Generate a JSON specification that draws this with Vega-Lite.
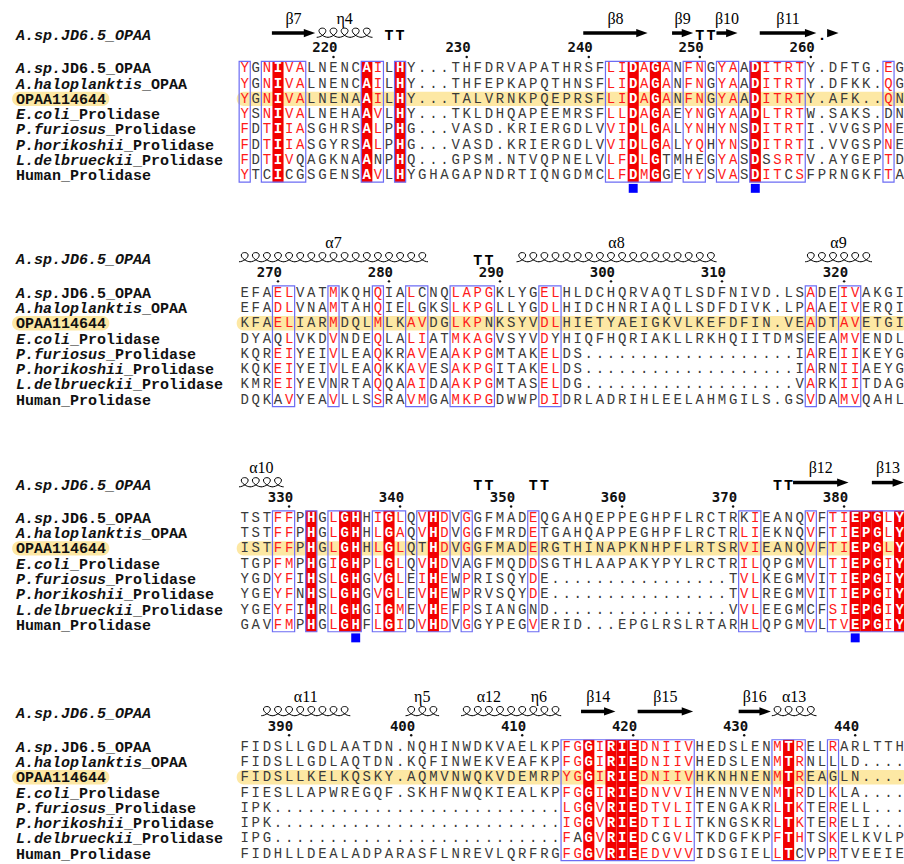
{
"$schema":"https://vega.github.io/schema/vega-lite/v6.json",
"width":904,"height":864,"padding":0,"autosize":{"type":"none"},
"background":"white",
"config":{"view":{"stroke":null}},
"datasets":{
"names":[
{"r":0,"sp":"A.sp.","rest":"JD6.5_OPAA","hl":false},
{"r":1,"sp":"A.haloplanktis","rest":"_OPAA","hl":false},
{"r":2,"sp":"","rest":"OPAA114644","hl":true},
{"r":3,"sp":"E.coli","rest":"_Prolidase","hl":false},
{"r":4,"sp":"P.furiosus","rest":"_Prolidase","hl":false},
{"r":5,"sp":"P.horikoshii","rest":"_Prolidase","hl":false},
{"r":6,"sp":"L.delbrueckii","rest":"_Prolidase","hl":false},
{"r":7,"sp":"","rest":"Human_Prolidase","hl":false}
],
"blocks":[{"b":1,"ref":"A.sp.JD6.5_OPAA"},{"b":2,"ref":"A.sp.JD6.5_OPAA"},{"b":3,"ref":"A.sp.JD6.5_OPAA"},{"b":4,"ref":"A.sp.JD6.5_OPAA"}],
"seq":[
{"b":1,"r":0,"seq":"YGNIVALNENCAILHY...THFDRVAPATHRSFLIDAGANFNGYAADITRTY.DFTG.EG","cons":"s-siss----|-is-i-----|----------|---ssisis-|ss-ss-isss|s-------s-"},
{"b":1,"r":1,"seq":"YGNIVALNENCAILHY...THFEPKAPQTHNSFLIDAGANFNGYAADITRTY.DFKK.QG","cons":"s-siss----|-is-i-----|----------|---ssisis-|ss-ss-isss|s-------s-"},
{"b":1,"r":2,"seq":"YGNIVALNENAAILHY...TALVRNKPQEPRSFLIDAGANFNGYAADITRTY.AFK..QN","cons":"s-siss----|-is-i-----|----------|---ssisis-|ss-ss-isss|s-------s-"},
{"b":1,"r":3,"seq":"YSNIVALNEHAAVLHY...TKLDHQAPEEMRSFLLDAGAEYNGYAADLTRTW.SAKS.DN","cons":"s-siss----|-is-i-----|----------|---ssisis-|ss-ss-isss|s---------"},
{"b":1,"r":4,"seq":"FDTIIASGHRSALPHG...VASD.KRIERGDLVVIDLGALYNHYNSDITRTI.VVGSPNE","cons":"s-siss----|-is-i-----|----------|---ssisis-|ss-ss-isss|s-------s-"},
{"b":1,"r":5,"seq":"FDTIIASGYRSALPHG...VASD.KRIERGDLVVIDLGALYQHYNSDITRTI.VVGSPNE","cons":"s-siss----|-is-i-----|----------|---ssisis-|ss-ss-isss|s-------s-"},
{"b":1,"r":6,"seq":"FDTIVQAGKNAANPHQ...GPSM.NTVQPNELVLFDLGTMHEGYASDSSRTV.AYGEPTD","cons":"s-sis-----|-i--i-----|----------|---ssisi--|---ss-i-ss|s-------s-"},
{"b":1,"r":7,"seq":"YTCICGSGENSAVLHYGHAGAPNDRTIQNGDMCLFDMGGEYYSVASDITCSFPRNGKFTA","cons":"s--i------|-is-i-----|----------|---ssisi--|ss-ss-iss-|s-------s-"},
{"b":2,"r":0,"seq":"EFAELVATMKQHQIALCNQLAPGKLYGELHLDCHQRVAQTLSDFNIVD.LSADEIVAKGI","cons":"---ss---s-|--s--s---s|sss----ss-|----------|----------|-s--ss----"},
{"b":2,"r":1,"seq":"EFADLVNAMTAHQIELGKSLKPGLLYGDLHIDCHNRIAQLLSDFDIVK.LPAAEIVERQI","cons":"---ss---s-|--s--s---s|sss----ss-|----------|----------|-s--ss----"},
{"b":2,"r":2,"seq":"KFAELIARMDQLMLKAVDGLKPNKSYVDLHIETYAEIGKVLKEFDFIN.VEADTAVETGI","cons":"---ss---s-|--s--ss--s|ss-----ss-|----------|----------|-s--ss----"},
{"b":2,"r":3,"seq":"DYAQLVKDVNDEQLALIATMKAGVSYVDYHIQFHQRIAKLLRKHQIITDMSEEAMVENDL","cons":"----s---s-|--s--ss--s|sss----s--|----------|----------|----ss----"},
{"b":2,"r":4,"seq":"KQREIYEIVLEAQKRAVEAAKPGMTAKELDS...................IAREIIKEYG","cons":"---ss---s-|--s--ss--s|sss----ss-|----------|----------|-s--ss----"},
{"b":2,"r":5,"seq":"KQKEIYEIVLEAQKKAVESAKPGITAKELDS...................IARNIIAEYG","cons":"---ss---s-|--s--ss--s|sss----ss-|----------|----------|-s--ss----"},
{"b":2,"r":6,"seq":"KMREIYEVNRTAQQAAIDAAKPGMTASELDG...................VARKIITDAG","cons":"---ss-----|--s--ss--s|sss----ss-|----------|----------|-s--ss----"},
{"b":2,"r":7,"seq":"DQKAVYEAVLLSSRAVMGAMKPGDWWPDIDRLADRIHLEELAHMGILS.GSVDAMVQAHL","cons":"----s---s-|--s--ss--s|sss----ss-|----------|----------|-s--ss----"},
{"b":3,"r":0,"seq":"TSTFFPHGLGHHIGLQVHDVGGFMADEQGAHQEPPEGHPFLRCTRKIEANQVFTIEPGLY","cons":"---ss-i-si|i-sis-sis-|s-----s---|----------|------s---|-s-ssiiisi"},
{"b":3,"r":1,"seq":"TSTFFPHGLGHHLGAQVHDVGGFMRDETGAHQAPPEGHPFLRCTRLIEKNQVFTIEPGLY","cons":"---ss-i-si|i-sis-sis-|s-----s---|----------|-----ss---|-s-ssiiisi"},
{"b":3,"r":2,"seq":"ISTFFPHGLGHHLGLQTHDVGGFMADERGTHINAPKNHPFLRTSRVIEANQVFTIEPGLY","cons":"---ss-i-si|i-sis--is-|s-----s---|----------|-----ss---|-s-ssiiisi"},
{"b":3,"r":3,"seq":"TGPFMPHGIGHPLGLQVHDVAGFMQDDSGTHLAAPAKYPYLRCTRILQPGMVLTIEPGIY","cons":"---ss-i-si|i-sis-sis-|------s---|----------|-----ss---|-s-ssiiisi"},
{"b":3,"r":4,"seq":"YGDYFIHSLGHGVGLEIHEWPRISQYDE................TVLKEGMVITIEPGIY","cons":"---ss-i-si|i-sis-sis-|s-----s---|----------|-----ss---|-s-ssiiisi"},
{"b":3,"r":5,"seq":"YGEYFNHSLGHGVGLEVHEWPRVSQYDE................TVLREGMVITIEPGIY","cons":"---ss-i-si|i-sis-sis-|s-----s---|----------|-----ss---|-s-ssiiisi"},
{"b":3,"r":6,"seq":"YGEYFIHRLGHGIGMEVHEFPSIANGND................VVLEEGMCFSIEPGIY","cons":"---ss-i-si|i-sis-sis-|s---------|----------|-----ss---|---ssiiisi"},
{"b":3,"r":7,"seq":"GAVFMPHGLGHFLGIDVHDVGGYPEGVERID...EPGLRSLRTARHLQPGMVLTVEPGIY","cons":"---ss-i-si|i-sis-sis-|s-----s---|----------|------s---|-s-ssiiisi"},
{"b":4,"r":0,"seq":"FIDSLLGDLAATDN.NQHINWDKVAELKPFGGIRIEDNIIVHEDSLENMTRELRARLTTH","cons":"----------|----------|---------s|sisiiissss|s-------si|s--s------"},
{"b":4,"r":1,"seq":"FIDSLLGDLAQTDN.KQFINWEKVEAFKPFGGIRIEDNIIVHEDSLENMTRNLLLD....","cons":"----------|----------|---------s|sisiiissss|s-------si|s---------"},
{"b":4,"r":2,"seq":"FIDSLLKELKQSKY.AQMVNWQKVDEMRPYGGIRIEDNIIVHKNHNENMTREAGLN....","cons":"----------|----------|---------s|sisiiissss|s-------si|s---------"},
{"b":4,"r":3,"seq":"FIESLLAPWREGQF.SKHFNWQKIEALKPFGGIRIEDNVVIHENNVENMTRDLKLA....","cons":"----------|----------|---------s|sisiiissss|s-------si|s--s------"},
{"b":4,"r":4,"seq":"IPK..........................LGGVRIEDTVLITENGAKRLTKTERELL...","cons":"----------|----------|---------s|sisiiissss|s-------si|s--s------"},
{"b":4,"r":5,"seq":"IPK..........................IGGVRIEDTILITKNGSKRLTKTERELI...","cons":"----------|----------|---------s|sisiiissss|s-------si|s--s------"},
{"b":4,"r":6,"seq":"IPG..........................FAGVRIEDCGVLTKDGFKPFTHTSKELKVLP","cons":"----------|----------|---------s|-isiiis--s|s-------si|s--s------"},
{"b":4,"r":7,"seq":"FIDHLLDEALADPARASFLNREVLQRFRGFGGVRIEEDVVVIDSGIELLTCVPRTVEEIE","cons":"----------|----------|---------s|sisiiissss|s-------si|---s------"}
],
"box":[
{"b":1,"c1":0,"c2":0},{"b":1,"c1":2,"c2":5},{"b":1,"c1":11,"c2":12},{"b":1,"c1":14,"c2":14},{"b":1,"c1":33,"c2":38},{"b":1,"c1":40,"c2":41},{"b":1,"c1":43,"c2":44},{"b":1,"c1":46,"c2":50},{"b":1,"c1":58,"c2":58},
{"b":2,"c1":3,"c2":4},{"b":2,"c1":8,"c2":8},{"b":2,"c1":12,"c2":12},{"b":2,"c1":15,"c2":16},{"b":2,"c1":19,"c2":22},{"b":2,"c1":27,"c2":28},{"b":2,"c1":51,"c2":51},{"b":2,"c1":54,"c2":55},
{"b":3,"c1":3,"c2":4},{"b":3,"c1":6,"c2":6},{"b":3,"c1":8,"c2":10},{"b":3,"c1":12,"c2":14},{"b":3,"c1":16,"c2":18},{"b":3,"c1":20,"c2":20},{"b":3,"c1":26,"c2":26},{"b":3,"c1":45,"c2":46},{"b":3,"c1":51,"c2":51},{"b":3,"c1":53,"c2":59},
{"b":4,"c1":29,"c2":40},{"b":4,"c1":48,"c2":50},{"b":4,"c1":53,"c2":53}
],
"num":[
{"b":1,"c":8,"n":"220"},{"b":1,"c":20,"n":"230"},{"b":1,"c":31,"n":"240"},{"b":1,"c":41,"n":"250"},{"b":1,"c":51,"n":"260"},
{"b":2,"c":3,"n":"270"},{"b":2,"c":13,"n":"280"},{"b":2,"c":23,"n":"290"},{"b":2,"c":33,"n":"300"},{"b":2,"c":43,"n":"310"},{"b":2,"c":54,"n":"320"},
{"b":3,"c":4,"n":"330"},{"b":3,"c":14,"n":"340"},{"b":3,"c":24,"n":"350"},{"b":3,"c":34,"n":"360"},{"b":3,"c":44,"n":"370"},{"b":3,"c":54,"n":"380"},
{"b":4,"c":4,"n":"390"},{"b":4,"c":15,"n":"400"},{"b":4,"c":25,"n":"410"},{"b":4,"c":35,"n":"420"},{"b":4,"c":45,"n":"430"},{"b":4,"c":55,"n":"440"}
],
"ss":[
{"b":1,"t":"E","x1":2.45,"x2":6.35,"lab":"β7"},
{"b":1,"t":"H","x1":7,"x2":11,"lab":"η4","cs":[7,8,9,10,11]},
{"b":1,"t":"E","x1":30.5,"x2":36.3,"lab":"β8"},
{"b":1,"t":"E","x1":38.5,"x2":40.4,"lab":"β9"},
{"b":1,"t":"E","x1":42.5,"x2":44.4,"lab":"β10"},
{"b":1,"t":"E","x1":46.4,"x2":51.5,"lab":"β11"},
{"b":1,"t":"E","x1":52.6,"x2":53.5,"lab":""},
{"b":2,"t":"H","x1":0,"x2":16,"lab":"α7","cs":[0,1,2,3,4,5,6,7,8,9,10,11,12,13,14,15,16]},
{"b":2,"t":"H","x1":25,"x2":42,"lab":"α8","cs":[25,26,27,28,29,30,31,32,33,34,35,36,37,38,39,40,41,42]},
{"b":2,"t":"H","x1":51,"x2":56,"lab":"α9","cs":[51,52,53,54,55,56]},
{"b":3,"t":"H","x1":0,"x2":3,"lab":"α10","cs":[0,1,2,3]},
{"b":3,"t":"E","x1":49.4,"x2":54.4,"lab":"β12"},
{"b":3,"t":"E","x1":56.5,"x2":59.4,"lab":"β13"},
{"b":4,"t":"H","x1":2,"x2":9,"lab":"α11","cs":[2,3,4,5,6,7,8,9]},
{"b":4,"t":"H","x1":15,"x2":17,"lab":"η5","cs":[15,16,17]},
{"b":4,"t":"H","x1":20,"x2":24,"lab":"α12","cs":[20,21,22,23,24]},
{"b":4,"t":"H","x1":25,"x2":28,"lab":"η6","cs":[25,26,27,28]},
{"b":4,"t":"E","x1":30.3,"x2":33.4,"lab":"β14"},
{"b":4,"t":"E","x1":35.4,"x2":40.4,"lab":"β15"},
{"b":4,"t":"E","x1":44.5,"x2":47.4,"lab":"β16"},
{"b":4,"t":"H","x1":48,"x2":51,"lab":"α13","cs":[48,49,50,51]}
],
"tt":[
{"b":1,"c":13,"t":"T"},{"b":1,"c":14,"t":"T"},{"b":1,"c":41,"t":"T"},{"b":1,"c":42,"t":"T"},{"b":1,"c":52,"t":"."},
{"b":2,"c":21,"t":"T"},{"b":2,"c":22,"t":"T"},
{"b":3,"c":21,"t":"T"},{"b":3,"c":22,"t":"T"},{"b":3,"c":26,"t":"T"},{"b":3,"c":27,"t":"T"},{"b":3,"c":48,"t":"T"},{"b":3,"c":49,"t":"T"}
],
"sq":[{"b":1,"c":35},{"b":1,"c":46},{"b":3,"c":10},{"b":3,"c":55}]
},
"layer":[
{
"data":{"name":"seq"},
"transform":[
{"lookup":"r","from":{"data":{"name":"names"},"key":"r","fields":["sp","rest","hl"]}},
{"calculate":"[4.46,19.13,33.84,48.8][datum.b-1]+datum.r","as":"y"},
{"calculate":"datum.y-0.47","as":"y0"},
{"calculate":"datum.y+0.47","as":"y1"},
{"calculate":"-20.6+length(datum.sp)*0.8108","as":"xr"}
],
"layer":[
{"transform":[{"filter":"datum.hl"}],"mark":{"type":"rect","fill":"#fde8a4","cornerRadius":7},
"encoding":{"x":{"datum":-20.95,"type":"quantitative","scale":{"domain":[-22.045,59.396],"nice":false,"zero":false},"axis":null},"x2":{"datum":-12.2},
"y":{"field":"y0","type":"quantitative","scale":{"domain":[0,56.47],"reverse":true,"nice":false,"zero":false},"axis":null},"y2":{"field":"y1"}}},
{"transform":[{"filter":"datum.hl"}],"mark":{"type":"rect","fill":"#fde8a4","cornerRadius":7},
"encoding":{"x":{"datum":-0.72,"type":"quantitative","scale":{"domain":[-22.045,59.396],"nice":false,"zero":false},"axis":null},"x2":{"datum":59.9},
"y":{"field":"y0","type":"quantitative","scale":{"domain":[0,56.47],"reverse":true,"nice":false,"zero":false},"axis":null},"y2":{"field":"y1"}}},
{"mark":{"type":"text","align":"left","baseline":"middle","font":"Liberation Mono","fontSize":15,"fontWeight":"bold","fontStyle":"italic","color":"#111111"},
"encoding":{"x":{"datum":-20.6,"type":"quantitative","scale":{"domain":[-22.045,59.396],"nice":false,"zero":false},"axis":null},
"y":{"field":"y","type":"quantitative","scale":{"domain":[0,56.47],"reverse":true,"nice":false,"zero":false},"axis":null},"text":{"field":"sp","type":"nominal"}}},
{"mark":{"type":"text","align":"left","baseline":"middle","font":"Liberation Mono","fontSize":15,"fontWeight":"bold","color":"#111111"},
"encoding":{"x":{"field":"xr","type":"quantitative","scale":{"domain":[-22.045,59.396],"nice":false,"zero":false},"axis":null},
"y":{"field":"y","type":"quantitative","scale":{"domain":[0,56.47],"reverse":true,"nice":false,"zero":false},"axis":null},"text":{"field":"rest","type":"nominal"}}}
]
},
{
"data":{"name":"seq"},
"transform":[
{"calculate":"split(datum.seq,'')","as":"aa"},
{"calculate":"split(replace(datum.cons,regexp('[|]','g'),''),'')","as":"cl"},
{"flatten":["aa","cl"]},
{"window":[{"op":"row_number","as":"n"}],"groupby":["b","r"]},
{"calculate":"datum.n-1","as":"c"},
{"calculate":"[4.46,19.13,33.84,48.8][datum.b-1]","as":"o"},
{"calculate":"datum.o+datum.r","as":"y"}
],
"layer":[
{"transform":[{"filter":"datum.cl=='i' && datum.r==0"},{"calculate":"datum.c-0.5","as":"x0"},{"calculate":"datum.c+0.5","as":"x1"},{"calculate":"datum.o-0.45","as":"y0"},{"calculate":"datum.o+7.45","as":"y1"}],
"mark":{"type":"rect","fill":"#f20000"},
"encoding":{"x":{"field":"x0","type":"quantitative","scale":{"domain":[-22.045,59.396],"nice":false,"zero":false},"axis":null},"x2":{"field":"x1"},
"y":{"field":"y0","type":"quantitative","scale":{"domain":[0,56.47],"reverse":true,"nice":false,"zero":false},"axis":null},"y2":{"field":"y1"}}},
{"transform":[{"filter":"datum.cl=='i'"}],
"mark":{"type":"text","baseline":"middle","font":"Liberation Mono","fontSize":14,"fontWeight":"bold","color":"white"},
"encoding":{"x":{"field":"c","type":"quantitative","scale":{"domain":[-22.045,59.396],"nice":false,"zero":false},"axis":null},
"y":{"field":"y","type":"quantitative","scale":{"domain":[0,56.47],"reverse":true,"nice":false,"zero":false},"axis":null},"text":{"field":"aa","type":"nominal"}}},
{"transform":[{"filter":"datum.cl!='i'"}],
"mark":{"type":"text","baseline":"middle","font":"Liberation Mono","fontSize":14},
"encoding":{"x":{"field":"c","type":"quantitative","scale":{"domain":[-22.045,59.396],"nice":false,"zero":false},"axis":null},
"y":{"field":"y","type":"quantitative","scale":{"domain":[0,56.47],"reverse":true,"nice":false,"zero":false},"axis":null},"text":{"field":"aa","type":"nominal"},
"color":{"condition":{"test":"datum.cl=='s'","value":"#ff1a1a"},"value":"#3a3a3a"}}}
]
},
{
"data":{"name":"box"},
"transform":[{"calculate":"[4.46,19.13,33.84,48.8][datum.b-1]","as":"o"},{"calculate":"datum.c1-0.5","as":"x0"},{"calculate":"datum.c2+0.5","as":"x1"},{"calculate":"datum.o-0.45","as":"y0"},{"calculate":"datum.o+7.45","as":"y1"}],
"mark":{"type":"rect","fillOpacity":0,"fill":"white","stroke":"#6c6cf4","strokeWidth":1.2},
"encoding":{"x":{"field":"x0","type":"quantitative","scale":{"domain":[-22.045,59.396],"nice":false,"zero":false},"axis":null},"x2":{"field":"x1"},
"y":{"field":"y0","type":"quantitative","scale":{"domain":[0,56.47],"reverse":true,"nice":false,"zero":false},"axis":null},"y2":{"field":"y1"}}
},
{
"data":{"name":"num"},
"transform":[{"calculate":"[4.46,19.13,33.84,48.8][datum.b-1]-1.3","as":"y"}],
"mark":{"type":"text","align":"right","dx":4,"baseline":"middle","font":"DejaVu Sans Mono","fontSize":14,"fontWeight":"bold","color":"#111111"},
"encoding":{"x":{"field":"c","type":"quantitative","scale":{"domain":[-22.045,59.396],"nice":false,"zero":false},"axis":null},
"y":{"field":"y","type":"quantitative","scale":{"domain":[0,56.47],"reverse":true,"nice":false,"zero":false},"axis":null},"text":{"field":"n","type":"nominal"}}
},
{
"data":{"name":"num"},
"transform":[{"calculate":"[4.46,19.13,33.84,48.8][datum.b-1]-0.74","as":"y"}],
"mark":{"type":"point","shape":"circle","filled":true,"size":6,"color":"#111111","opacity":1},
"encoding":{"x":{"field":"c","type":"quantitative","scale":{"domain":[-22.045,59.396],"nice":false,"zero":false},"axis":null},
"y":{"field":"y","type":"quantitative","scale":{"domain":[0,56.47],"reverse":true,"nice":false,"zero":false},"axis":null}}
},
{
"data":{"name":"sq"},
"transform":[{"calculate":"[4.46,19.13,33.84,48.8][datum.b-1]+7.85","as":"y"}],
"mark":{"type":"point","shape":"square","filled":true,"size":80,"color":"#0000ff","opacity":1},
"encoding":{"x":{"field":"c","type":"quantitative","scale":{"domain":[-22.045,59.396],"nice":false,"zero":false},"axis":null},
"y":{"field":"y","type":"quantitative","scale":{"domain":[0,56.47],"reverse":true,"nice":false,"zero":false},"axis":null}}
},
{
"data":{"name":"ss"},
"transform":[{"filter":"datum.t=='E'"},{"calculate":"[4.46,19.13,33.84,48.8][datum.b-1]-2.3","as":"y"}],
"layer":[
{"mark":{"type":"rule","strokeWidth":3.5,"color":"black","x2Offset":-7},
"encoding":{"x":{"field":"x1","type":"quantitative","scale":{"domain":[-22.045,59.396],"nice":false,"zero":false},"axis":null},"x2":{"field":"x2"},
"y":{"field":"y","type":"quantitative","scale":{"domain":[0,56.47],"reverse":true,"nice":false,"zero":false},"axis":null}}},
{"mark":{"type":"point","shape":"M -1 -0.72 L 1 0 L -1 0.72 Z","filled":true,"size":130,"color":"black","opacity":1,"xOffset":-5.7},
"encoding":{"x":{"field":"x2","type":"quantitative","scale":{"domain":[-22.045,59.396],"nice":false,"zero":false},"axis":null},
"y":{"field":"y","type":"quantitative","scale":{"domain":[0,56.47],"reverse":true,"nice":false,"zero":false},"axis":null}}}
]
},
{
"data":{"name":"ss"},
"transform":[{"filter":"datum.t=='H'"},{"flatten":["cs"]},{"calculate":"[4.46,19.13,33.84,48.8][datum.b-1]-2.3","as":"y"}],
"mark":{"type":"point","shape":"M -1 0.75 C -0.3 0.75 0.65 0.1 0.6 -0.45 C 0.55 -1 -0.55 -1 -0.6 -0.45 C -0.65 0.1 0.3 0.75 1 0.75","filled":false,"size":130,"stroke":"black","strokeWidth":1,"opacity":1},
"encoding":{"x":{"field":"cs","type":"quantitative","scale":{"domain":[-22.045,59.396],"nice":false,"zero":false},"axis":null},
"y":{"field":"y","type":"quantitative","scale":{"domain":[0,56.47],"reverse":true,"nice":false,"zero":false},"axis":null}}
},
{
"data":{"name":"ss"},
"transform":[{"filter":"datum.lab!=''"},{"calculate":"(datum.x1+datum.x2)/2","as":"xm"},{"calculate":"[4.46,19.13,33.84,48.8][datum.b-1]-3.25","as":"y"}],
"mark":{"type":"text","baseline":"middle","font":"Liberation Serif","fontSize":16,"color":"black"},
"encoding":{"x":{"field":"xm","type":"quantitative","scale":{"domain":[-22.045,59.396],"nice":false,"zero":false},"axis":null},
"y":{"field":"y","type":"quantitative","scale":{"domain":[0,56.47],"reverse":true,"nice":false,"zero":false},"axis":null},"text":{"field":"lab","type":"nominal"}}
},
{
"data":{"name":"tt"},
"transform":[{"calculate":"[4.46,19.13,33.84,48.8][datum.b-1]-2.15","as":"y"}],
"mark":{"type":"text","baseline":"middle","font":"Liberation Mono","fontSize":15,"fontWeight":"bold","color":"black"},
"encoding":{"x":{"field":"c","type":"quantitative","scale":{"domain":[-22.045,59.396],"nice":false,"zero":false},"axis":null},
"y":{"field":"y","type":"quantitative","scale":{"domain":[0,56.47],"reverse":true,"nice":false,"zero":false},"axis":null},"text":{"field":"t","type":"nominal"}}
},
{
"data":{"name":"blocks"},
"transform":[{"calculate":"[4.46,19.13,33.84,48.8][datum.b-1]-2.17","as":"y"}],
"mark":{"type":"text","align":"left","baseline":"middle","font":"Liberation Mono","fontSize":15,"fontWeight":"bold","fontStyle":"italic","color":"#111111"},
"encoding":{"x":{"datum":-20.6,"type":"quantitative","scale":{"domain":[-22.045,59.396],"nice":false,"zero":false},"axis":null},
"y":{"field":"y","type":"quantitative","scale":{"domain":[0,56.47],"reverse":true,"nice":false,"zero":false},"axis":null},"text":{"field":"ref","type":"nominal"}}
}
]
}
